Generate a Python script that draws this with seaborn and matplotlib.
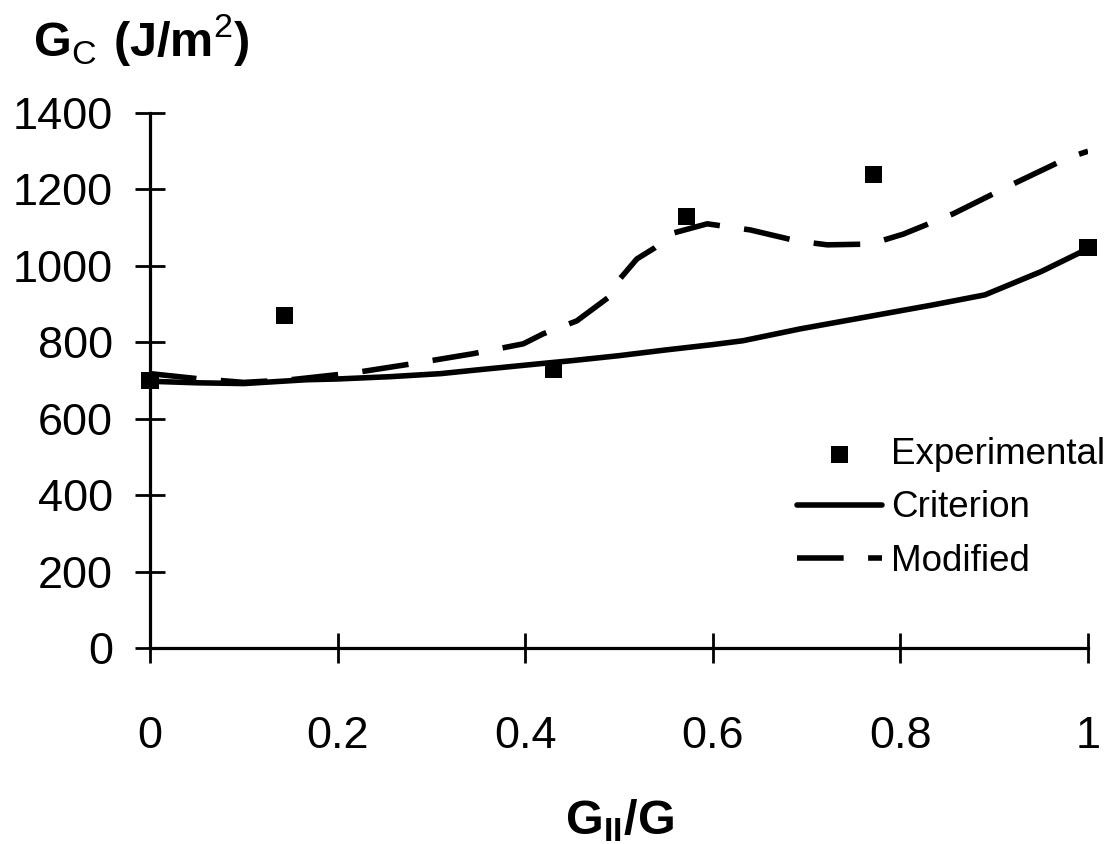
import matplotlib
matplotlib.use('Agg')
import matplotlib.pyplot as plt
import seaborn as sns
import pandas as pd

sns.set_theme(style='white')
plt.rcParams['font.family'] = ['Liberation Sans', 'DejaVu Sans']
plt.rcParams['mathtext.fontset'] = 'custom'
plt.rcParams['mathtext.rm'] = 'Liberation Sans'
plt.rcParams['mathtext.bf'] = 'Liberation Sans:bold'
plt.rcParams['text.color'] = 'black'
plt.rcParams['axes.labelcolor'] = 'black'

# experimental points
exp_x = [0.0, 0.143, 0.43, 0.572, 0.771, 1.0]
exp_y = [700, 870, 728, 1128, 1238, 1047]

# criterion (solid)
crit_x = [0.0, 0.05, 0.1, 0.167, 0.2, 0.256, 0.31, 0.35, 0.416, 0.45, 0.5, 0.55, 0.6, 0.632, 0.693, 0.754, 0.835, 0.89, 0.95, 1.0]
crit_y = [698, 694, 692, 702, 704, 710, 718, 728, 744, 752, 765, 780, 794, 804, 835, 862, 898, 924, 985, 1045]

# modified (dashed)
mod_x = [0.0, 0.05, 0.1, 0.15, 0.217, 0.28, 0.344, 0.398, 0.419, 0.455, 0.494, 0.501, 0.519, 0.538, 0.558, 0.594, 0.64, 0.69, 0.722, 0.768, 0.803, 0.856, 0.92, 0.978, 1.0]
mod_y = [718, 705, 695, 702, 720, 744, 770, 796, 822, 856, 927, 966, 1018, 1047, 1086, 1110, 1094, 1065, 1055, 1057, 1083, 1136, 1214, 1282, 1300]

df_exp = pd.DataFrame({'x': exp_x, 'y': exp_y})
df_crit = pd.DataFrame({'x': crit_x, 'y': crit_y})
df_mod = pd.DataFrame({'x': mod_x, 'y': mod_y})

fig = plt.figure(figsize=(11.18, 8.44), dpi=100)
ax = fig.add_axes([150 / 1118, 196 / 844, 938 / 1118, 535 / 844])

sns.lineplot(data=df_crit, x='x', y='y', ax=ax, color='black', lw=4,
             label='Criterion', sort=False)
sns.lineplot(data=df_mod, x='x', y='y', ax=ax, color='black', lw=4,
             label='Modified', sort=False, dashes=False)
ax.lines[-1].set_dashes([8.4, 4.4])
sns.scatterplot(data=df_exp, x='x', y='y', ax=ax, color='black', marker='s',
                s=150, edgecolor='none', label='Experimental', zorder=5,
                clip_on=False)

ax.set_xlim(0, 1)
ax.set_ylim(0, 1400)
ax.set_xticks([0, 0.2, 0.4, 0.6, 0.8, 1])
ax.set_xticklabels(['0', '0.2', '0.4', '0.6', '0.8', '1'])
ax.set_yticks(range(0, 1401, 200))
ax.tick_params(axis='both', direction='inout', length=22, width=2.0,
               colors='black', labelsize=32.5, bottom=True, left=True)
ax.tick_params(axis='y', pad=15.5)
ax.tick_params(axis='x', pad=38)
for s in ['top', 'right']:
    ax.spines[s].set_visible(False)
for s in ['left', 'bottom']:
    ax.spines[s].set_linewidth(2.3)
    ax.spines[s].set_color('black')
ax.set_ylabel('')
ax.set_xlabel(r'$\mathbf{G_{II}/G}$', fontsize=35, labelpad=29)

fig.text(33 / 1118, 1 - 57 / 844,
         r'$\mathbf{G}_{\mathrm{C}}\ \mathbf{(J/m}^{\mathrm{2}}\mathbf{)}$',
         fontsize=35, va='baseline', ha='left')

h, l = ax.get_legend_handles_labels()
order = [l.index('Experimental'), l.index('Criterion'), l.index('Modified')]
leg = ax.legend([h[i] for i in order], [l[i] for i in order],
                loc='upper left', bbox_to_anchor=(797 / 1118, 1 - 437 / 844),
                bbox_transform=fig.transFigure, frameon=False,
                fontsize=26.5, handlelength=2.3, handletextpad=0.25,
                labelspacing=0.5, borderpad=0, borderaxespad=0,
                labelcolor='black')

fig.savefig('out.png', dpi=100)
